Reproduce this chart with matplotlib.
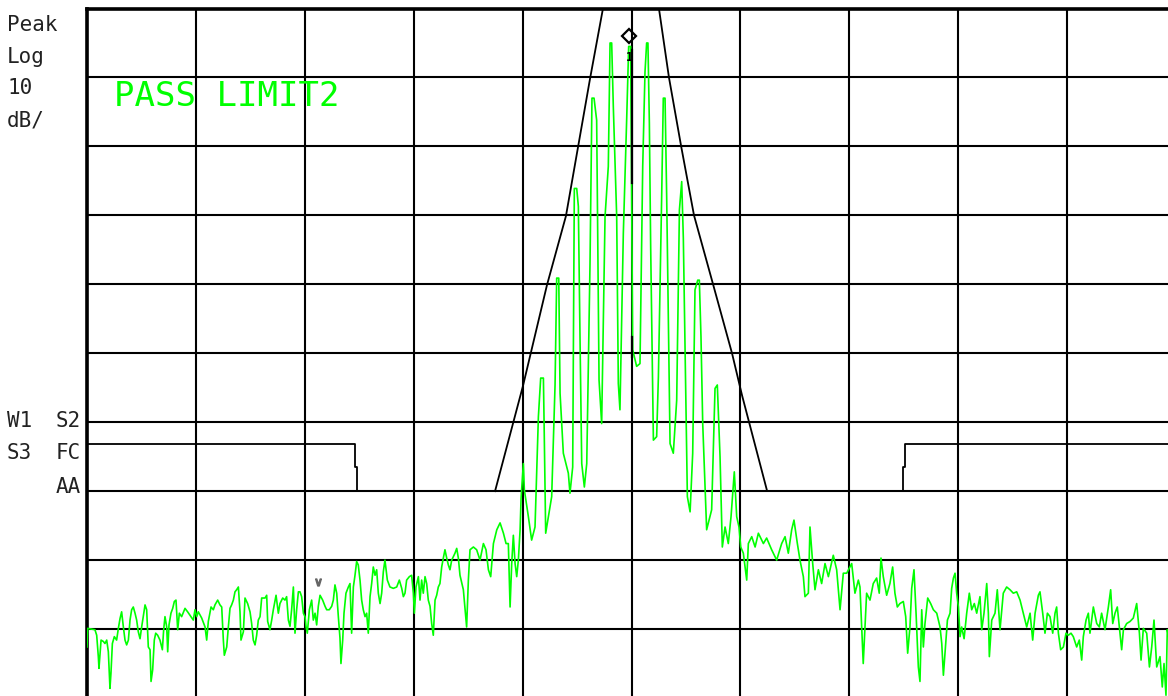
import matplotlib
matplotlib.use("Agg")
import matplotlib.pyplot as plt

# trace: frequency in screen divisions (0..10), level in dB below top graticule
freq_div = [
    0.000, 0.006, 0.073, 0.089, 0.104, 0.110, 0.129, 0.150, 0.165, 0.181, 0.196, 0.211, 0.220, 0.233, 0.251,
    0.272, 0.288, 0.303, 0.318, 0.334, 0.349, 0.364, 0.380, 0.395, 0.410, 0.425, 0.441, 0.456, 0.471, 0.487,
    0.502, 0.517, 0.533, 0.548, 0.563, 0.579, 0.588, 0.603, 0.618, 0.631, 0.649, 0.670, 0.692, 0.704, 0.716,
    0.732, 0.741, 0.753, 0.771, 0.787, 0.802, 0.817, 0.833, 0.848, 0.869, 0.900, 0.924, 0.946, 0.976, 0.992,
    1.007, 1.022, 1.053, 1.084, 1.099, 1.114, 1.139, 1.160, 1.175, 1.200, 1.221, 1.237, 1.252, 1.261, 1.283,
    1.298, 1.313, 1.328, 1.344, 1.359, 1.374, 1.390, 1.405, 1.414, 1.436, 1.451, 1.475, 1.497, 1.512, 1.527,
    1.543, 1.558, 1.573, 1.589, 1.604, 1.635, 1.650, 1.659, 1.680, 1.696, 1.711,
    1.736, 1.757, 1.772, 1.797, 1.818, 1.833, 1.849, 1.864, 1.879, 1.895, 1.910, 1.925, 1.941, 1.956, 1.971,
    1.987, 2.002, 2.011, 2.023, 2.042, 2.063, 2.078, 2.094, 2.109, 2.124, 2.140, 2.164, 2.186, 2.201, 2.225,
    2.247, 2.262, 2.277, 2.293, 2.308, 2.323, 2.332, 2.348, 2.360, 2.378, 2.400, 2.415, 2.430, 2.446, 2.461,
    2.476, 2.491, 2.507, 2.522, 2.537, 2.553, 2.568, 2.583, 2.599, 2.614, 2.629, 2.645, 2.660, 2.675, 2.691,
    2.706, 2.721, 2.736, 2.758, 2.782, 2.813, 2.844, 2.868, 2.890, 2.905, 2.920, 2.935, 2.960, 2.981, 2.997,
    3.006, 3.021, 3.043, 3.058, 3.073, 3.088, 3.104, 3.119, 3.134, 3.150, 3.165, 3.180, 3.196, 3.211, 3.226,
    3.241, 3.257, 3.272, 3.287, 3.303, 3.318, 3.333, 3.349, 3.364, 3.379, 3.395, 3.410, 3.425,
    3.456, 3.486, 3.502, 3.517, 3.548, 3.578, 3.609, 3.640, 3.664, 3.686, 3.707, 3.732, 3.763, 3.793, 3.824,
    3.848, 3.869, 3.885, 3.900, 3.915, 3.931, 3.946, 3.961, 3.977, 3.986, 4.007, 4.016, 4.053, 4.083, 4.114,
    4.145, 4.166, 4.191, 4.197, 4.212, 4.237, 4.267, 4.298, 4.313, 4.332, 4.344, 4.374, 4.420, 4.435, 4.460,
    4.475, 4.497, 4.512, 4.527, 4.543, 4.567, 4.589, 4.619, 4.637, 4.656, 4.680, 4.702, 4.726, 4.757, 4.787,
    4.803, 4.818, 4.833, 4.864, 4.879, 4.894, 4.925, 4.956, 4.974, 4.992, 5.011, 5.047, 5.078, 5.103, 5.124,
    5.139, 5.151, 5.164, 5.176, 5.201, 5.231, 5.247, 5.277, 5.292, 5.308, 5.323, 5.354, 5.384, 5.415, 5.440,
    5.461, 5.476, 5.513, 5.538, 5.562, 5.583, 5.608, 5.623, 5.638, 5.654, 5.690, 5.736, 5.767, 5.788, 5.813,
    5.834, 5.859, 5.889, 5.914, 5.944, 5.966, 5.987, 6.003, 6.027, 6.058, 6.073, 6.104, 6.135, 6.165, 6.211,
    6.241, 6.287, 6.333, 6.379, 6.410, 6.440, 6.471, 6.492, 6.523, 6.547, 6.578, 6.593, 6.624, 6.639, 6.664,
    6.685, 6.716, 6.746, 6.777, 6.808, 6.853, 6.884, 6.915, 6.945, 6.976, 7.022, 7.052, 7.083,
    7.098, 7.128, 7.159, 7.190, 7.220, 7.251, 7.275, 7.291, 7.312, 7.343, 7.373, 7.398, 7.419, 7.441, 7.465,
    7.496, 7.518, 7.536, 7.557, 7.573, 7.594, 7.613, 7.634, 7.649, 7.665, 7.680, 7.695, 7.720, 7.747, 7.772,
    7.803, 7.833, 7.849, 7.864, 7.879, 7.901, 7.925, 7.940, 7.956, 7.971, 7.986, 8.002, 8.017, 8.032, 8.054,
    8.078, 8.102, 8.124, 8.148, 8.170, 8.200, 8.216, 8.237, 8.262, 8.277, 8.286, 8.308, 8.338, 8.359, 8.384,
    8.414, 8.445, 8.476, 8.506, 8.537, 8.568, 8.598, 8.629, 8.660, 8.684, 8.706, 8.736, 8.751, 8.776, 8.797,
    8.819, 8.843, 8.868, 8.889, 8.904, 8.920, 8.941, 8.966, 8.990, 9.011, 9.036, 9.057, 9.088, 9.112, 9.134,
    9.149, 9.174, 9.195, 9.210, 9.241, 9.272, 9.296, 9.317, 9.348, 9.379, 9.400, 9.419, 9.440, 9.461, 9.486,
    9.501, 9.517, 9.547, 9.578, 9.608, 9.639, 9.664, 9.679, 9.700, 9.731, 9.756, 9.777, 9.798, 9.823, 9.853,
    9.874, 9.890, 9.908, 9.920, 9.930,
]
level_db = [
    -92.6, -89.9, -90.1, -90.9, -94.0, -95.7, -91.6, -91.8, -92.1, -91.6, -93.3, -98.6, -96.4, -92.1, -91.1,
    -91.6, -89.9, -88.5, -87.5, -89.7, -91.6, -92.3, -91.6, -88.7, -87.2, -86.8, -87.7, -88.7, -90.4, -91.4,
    -89.7, -88.2, -86.5, -87.2, -92.6, -93.0, -97.6, -95.9, -91.6, -90.6, -90.9, -91.6, -93.0, -90.1, -88.2,
    -89.7, -93.3, -89.4, -87.7, -87.0, -86.0, -85.8, -90.1, -87.7, -88.2, -87.0, -87.5, -88.0, -88.7, -87.2,
    -88.2, -87.5, -88.4, -89.7, -91.6, -88.9, -86.8, -87.2, -86.5, -85.8, -86.5, -86.8, -91.6, -93.8, -92.6,
    -89.7, -87.0, -86.5, -85.8, -84.6, -84.3, -83.9, -87.5, -91.6, -90.4, -85.5, -86.3, -87.5, -89.2, -91.6,
    -92.3, -90.9, -88.7, -88.2, -85.5, -85.5, -85.1, -88.9, -90.1, -88.7, -87.2,
    -85.1, -87.7, -86.3, -85.5, -85.8, -85.3, -88.7, -89.6, -87.2, -83.9, -90.6, -87.2, -84.6, -84.6, -85.3,
    -87.7, -88.2, -89.6, -90.6, -87.2, -85.8, -88.7, -87.7, -89.4, -86.7, -85.1, -85.8, -86.7, -87.2, -87.2,
    -86.7, -85.8, -83.6, -84.8, -88.2, -91.3, -95.0, -91.6, -87.7, -84.8, -83.9, -83.4, -90.6, -83.9, -82.2,
    -80.2, -80.7, -82.9, -85.8, -87.2, -88.2, -87.7, -90.6, -85.3, -83.4, -81.0, -82.2, -81.4, -84.8, -86.3,
    -84.8, -81.7, -80.0, -82.9, -83.9, -84.1, -83.9, -82.9, -84.1, -85.3, -84.8, -82.9, -82.4, -82.2, -84.8,
    -87.7, -83.9, -82.4, -85.8, -82.9, -84.8, -82.4, -83.4, -85.8, -86.7, -89.2, -90.9, -85.8, -85.1, -83.9,
    -83.4, -81.0, -79.7, -78.5, -79.7, -80.7, -81.4, -80.0, -79.5, -79.0, -78.3, -79.7, -82.2,
    -84.3, -89.7, -82.9, -78.5, -78.1, -78.5, -80.0, -77.6, -78.5, -81.4, -82.4, -77.6, -75.6, -74.6, -76.1,
    -77.6, -77.6, -86.8, -80.5, -76.4, -80.5, -82.4, -80.0, -75.6, -71.0, -66.0, -69.8, -73.7, -77.1, -75.2,
    -59.2, -53.6, -53.6, -59.7, -76.1, -73.7, -70.8, -54.6, -39.1, -39.1, -55.8, -64.5, -67.4, -70.3, -66.5,
    -26.1, -26.1, -28.7, -47.6, -66.0, -69.4, -66.0, -37.0, -13.0, -13.0, -16.2, -53.9, -60.2, -30.2, -22.9,
    -5.0, -5.0, -14.2, -30.2, -54.4, -58.2, -32.6, -15.9, -5.5, -5.5, -49.5, -51.9, -51.5, -22.9, -9.2,
    -5.0, -5.0, -16.6, -34.5, -62.6, -62.1, -53.4, -27.3, -13.0, -13.0, -27.3, -63.1, -64.5, -56.8, -29.2,
    -25.1, -33.3, -70.8, -73.0, -64.5, -40.8, -39.4, -39.4, -47.6, -60.2, -75.6, -72.7, -55.1, -54.6, -65.0,
    -78.1, -75.2, -77.6, -73.7, -67.2, -73.7, -75.2, -78.1, -79.0, -82.9, -77.6, -76.6, -78.1, -76.1, -77.6,
    -76.8, -78.5, -80.0, -77.6, -76.6, -79.0, -75.6, -74.2, -77.6, -80.0, -82.4, -85.3, -84.8, -75.2, -80.5,
    -84.3, -81.4, -83.4, -80.5, -82.4, -79.3, -81.4, -87.2, -81.9, -81.9, -80.5, -84.8, -82.9,
    -83.9, -95.0, -84.8, -85.8, -83.4, -82.6, -84.8, -79.7, -82.4, -85.1, -83.4, -81.0, -84.8, -86.8, -86.3,
    -86.0, -88.2, -93.5, -89.7, -84.1, -81.4, -87.7, -95.5, -97.6, -87.2, -92.6, -89.2, -85.5, -86.3, -87.2,
    -87.7, -89.7, -92.1, -96.7, -93.5, -88.7, -87.7, -84.1, -82.6, -81.9, -84.8, -86.8, -91.1, -89.7, -91.4,
    -87.7, -84.8, -87.2, -86.3, -87.7, -85.3, -90.1, -87.7, -83.4, -87.7, -94.0, -88.7, -87.7, -84.3, -90.1,
    -84.8, -83.9, -84.3, -84.8, -84.6, -85.8, -87.7, -89.7, -87.7, -91.6, -87.7, -85.1, -84.6, -87.7, -90.6,
    -87.7, -88.2, -90.6, -87.7, -86.8, -90.6, -93.0, -92.6, -90.6, -90.9, -90.6, -91.1, -92.6, -91.6, -94.5,
    -91.1, -88.7, -87.7, -90.6, -86.8, -89.2, -89.7, -87.7, -90.1, -86.8, -84.3, -89.2, -87.7, -86.8, -90.6,
    -93.0, -90.1, -89.2, -88.9, -88.4, -86.3, -90.6, -94.5, -89.9, -90.6, -95.5, -92.6, -88.7, -95.5, -94.0,
    -98.4, -95.0, -99.6, -90.1, -91.0,
]

# upper (pass) mask around the carrier
mask_freq = [3.747, 4.004, 4.224, 4.398, 4.509, 4.619, 4.738, 4.740,
             5.250, 5.252, 5.344, 5.455, 5.574, 5.749, 5.923, 6.015, 6.244]
mask_db = [-70.0, -54.7, -40.1, -30.1, -20.1, -10.2, 0.0, 2.0,
           2.0, 0.0, -10.0, -19.9, -30.0, -40.0, -50.0, -56.1, -69.9]

# lower limit shoulders
low_left_freq = [0.0, 2.461, 2.461, 2.479, 2.479, 3.747]
low_left_db = [-63.2, -63.2, -66.5, -66.5, -70.0, -70.0]
low_right_freq = [6.244, 7.496, 7.496, 7.511, 7.511, 10.0]
low_right_db = [-70.0, -70.0, -66.5, -66.5, -63.2, -63.2]

marker_freq = 4.977
marker_db = -4.0
center_bar_db = [(-6.0, -25.3), (-47.6, -50.5)]
vee_freq, vee_db = 2.121, -83.2

W, H = 1168, 696
fig = plt.figure(figsize=(W / 100, H / 100), dpi=100)
fig.patch.set_facecolor('white')

# graticule: left edge at x=87px, top at 8.5px; right/bottom run off the picture
ax = fig.add_axes([87 / W, (696 - 698) / H, 1089 / W, 689.5 / H])
ax.set_xlim(0, 10)
ax.set_ylim(-100, 0)
ax.set_xticks(range(11))
ax.set_yticks(range(-100, 1, 10))
ax.tick_params(length=0, labelbottom=False, labelleft=False)
ax.grid(True, color='black', lw=1.5)
ax.set_axisbelow(True)
for side in ['right', 'bottom']:
    ax.spines[side].set_visible(False)
ax.spines['left'].set_linewidth(2.6)
ax.spines['top'].set_linewidth(2.6)

green = '#00ff00'
ax.plot(freq_div, level_db, color=green, lw=1.2, zorder=3)

ax.plot(mask_freq, mask_db, color='black', lw=1.3, zorder=4)
ax.plot(low_left_freq, low_left_db, color='black', lw=1.3, zorder=4)
ax.plot(low_right_freq, low_right_db, color='black', lw=1.3, zorder=4)

for top, bot in center_bar_db:
    ax.plot([5.005, 5.005], [top, bot], color='black', lw=1.6, zorder=5)

ax.plot([marker_freq], [marker_db], marker='D', ms=7.5, mfc='none',
        mec='black', mew=1.6, zorder=6, clip_on=False)
ax.text(marker_freq, marker_db - 3.1, '1', ha='center', va='center',
        fontsize=8.5, fontweight='bold', color='black', family='DejaVu Sans Mono', zorder=6)
ax.plot([vee_freq], [vee_db], marker=r'$\vee$', ms=5, color='#666666', zorder=6)

# annotation texts
mono = 'DejaVu Sans Mono'
lab = dict(fontsize=15, color='#222222', family=mono, va='baseline')


def ftext(x, y, s, **kw):
    fig.text(x / W, 1 - y / H, s, **kw)


ftext(7, 31, 'Peak', ha='left', **lab)
ftext(7, 63, 'Log', ha='left', **lab)
ftext(7, 94, '10', ha='left', **lab)
ftext(7, 126, 'dB/', ha='left', **lab)
ftext(7, 427, 'W1', ha='left', **lab)
ftext(81, 427, 'S2', ha='right', **lab)
ftext(7, 459, 'S3', ha='left', **lab)
ftext(81, 459, 'FC', ha='right', **lab)
ftext(81, 493, 'AA', ha='right', **lab)

ftext(114, 106, 'PASS LIMIT2', ha='left', va='baseline', fontsize=24.5,
      color=green, family=mono)

fig.savefig('out.png', dpi=100, facecolor='white')
